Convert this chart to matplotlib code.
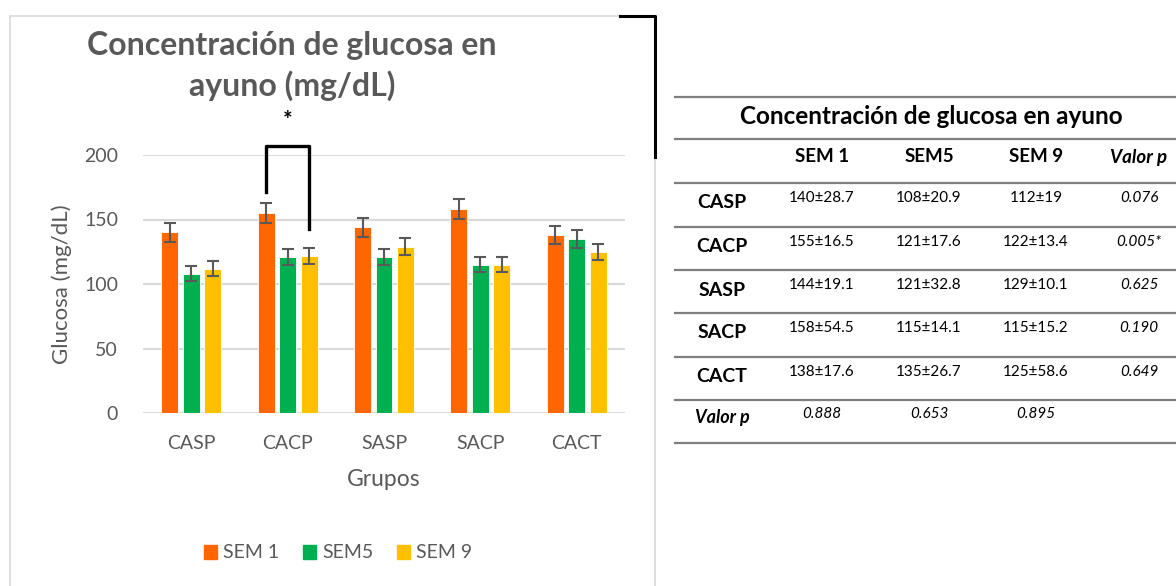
import matplotlib
matplotlib.use("Agg")
import matplotlib.pyplot as plt
from matplotlib.lines import Line2D
from matplotlib.patches import Rectangle, Patch

plt.rcParams['font.family'] = ['Lato', 'DejaVu Sans']

# ---- data ----
groups = ['CASP', 'CACP', 'SASP', 'SACP', 'CACT']
series = ['SEM 1', 'SEM5', 'SEM 9']
sem1 = [140, 155, 144, 158, 138]
sem5 = [108, 121, 121, 115, 135]
sem9 = [112, 122, 129, 115, 125]
err1 = [7.1, 7.9, 7.4, 7.9, 7.0]
err5 = [5.6, 6.2, 6.2, 5.8, 7.0]
err9 = [5.8, 6.2, 6.5, 5.8, 6.2]
colors = ['#FF6600', '#00B050', '#FFC000']

# table data
tbl_title = 'Concentración de glucosa en ayuno'
tbl_header = ['SEM 1', 'SEM5', 'SEM 9', 'Valor p']
tbl_sem1 = ['140±28.7', '155±16.5', '144±19.1', '158±54.5', '138±17.6']
tbl_sem5 = ['108±20.9', '121±17.6', '121±32.8', '115±14.1', '135±26.7']
tbl_sem9 = ['112±19', '122±13.4', '129±10.1', '115±15.2', '125±58.6']
tbl_prow = ['0.076', '0.005*', '0.625', '0.190', '0.649']
tbl_pcol = ['0.888', '0.653', '0.895']

W, H = 1176, 586
fig = plt.figure(figsize=(W / 100, H / 100), dpi=100)

def fx(px):
    return px / W

def fy(py):
    return 1 - py / H

# chart frame + black bracket on its corner
fig.add_artist(Rectangle((fx(10), fy(600)), fx(655) - fx(10), fy(16) - fy(600),
                         transform=fig.transFigure, fill=False, ec='#D9D9D9', lw=1.2))
fig.add_artist(Line2D([fx(620), fx(655), fx(655)], [fy(16), fy(16), fy(157)],
                      transform=fig.transFigure, color='black', lw=2.2))

ax = fig.add_axes([fx(143), fy(413), fx(625) - fx(143), fy(155) - fy(413)])
step = 0.223
bw = 0.175
for j, (vals, errs) in enumerate(zip([sem1, sem5, sem9], [err1, err5, err9])):
    xs = [i + (j - 1) * step for i in range(len(groups))]
    ax.bar(xs, vals, width=bw, color=colors[j], edgecolor='white', linewidth=0.6,
           zorder=2, label=series[j])
    ax.errorbar(xs, vals, yerr=errs, fmt='none', ecolor='#595959', elinewidth=1.5,
                capsize=4.5, capthick=1.5, zorder=3)

ax.set_xlim(-0.5, len(groups) - 0.5)
ax.set_ylim(0, 200)
ax.set_yticks([0, 50, 100, 150, 200])
ax.yaxis.grid(True, color='#D9D9D9', lw=1.5, zorder=0)
ax.set_axisbelow(True)
for s in ax.spines.values():
    s.set_visible(False)
ax.set_xticks(range(len(groups)))
ax.set_xticklabels(groups)
ax.tick_params(length=0, labelsize=14, labelcolor='#595959')
ax.tick_params(axis='y', pad=18)
ax.tick_params(axis='x', pad=16)
ax.set_ylabel('Glucosa (mg/dL)', fontsize=16, color='#595959', va='center')
ax.yaxis.set_label_coords(-0.168, 0.5)
ax.set_xlabel('Grupos', fontsize=16.5, color='#595959', labelpad=12)

# significance bracket
ax.plot([1 - step, 1 - step, 1 + step, 1 + step], [171, 207, 207, 142.6],
        color='black', lw=2.4, clip_on=False, zorder=4)
ax.text(1, 227, '*', ha='center', va='center', fontsize=16, fontweight='bold', clip_on=False)

fig.text(fx(292), fy(66), 'Concentración de glucosa en\nayuno (mg/dL)', ha='center', va='center',
         fontsize=23, fontweight='bold', color='#595959', linespacing=1.4)

handles = [Patch(color=c) for c in colors]
fig.legend(handles, series, loc='center', bbox_to_anchor=(fx(338), fy(553)), ncol=3,
           frameon=False, fontsize=14, handlelength=0.7, handleheight=0.7,
           handletextpad=0.3, columnspacing=1.2, labelcolor='#595959')

# ---- table ----
tx0, tx1 = fx(675), fx(1176)
for ly in [97, 139, 183, 227, 270, 313, 357, 400, 443]:
    fig.add_artist(Line2D([tx0, tx1], [fy(ly), fy(ly)], transform=fig.transFigure,
                          color='#7F7F7F', lw=1.6))
fig.text(fx(931), fy(116), tbl_title, ha='center', va='center', fontsize=17.5,
         fontweight='bold', color='black')
col_x = [822, 929, 1036, 1139]
for cx, h in zip(col_x, tbl_header):
    fig.text(fx(cx), fy(157), h, ha='center', va='center', fontsize=13.5, fontweight='bold',
             style='italic' if h == 'Valor p' else 'normal')
row_top = [183, 227, 270, 313, 357]
for r, g in enumerate(groups):
    ty = row_top[r] + 20
    fig.text(fx(722), fy(ty), g, ha='center', va='center', fontsize=14, fontweight='bold')
    cells = [tbl_sem1[r], tbl_sem5[r], tbl_sem9[r]]
    for cx, t in zip(col_x[:3], cells):
        fig.text(fx(cx), fy(ty - 5), t, ha='center', va='center', fontsize=11)
    fig.text(fx(col_x[3]), fy(ty - 5), tbl_prow[r], ha='center', va='center', fontsize=11,
             style='italic')
fig.text(fx(722), fy(418), 'Valor p', ha='center', va='center', fontsize=13,
         fontweight='bold', style='italic')
for cx, t in zip(col_x[:3], tbl_pcol):
    fig.text(fx(cx), fy(414), t, ha='center', va='center', fontsize=11, style='italic')

fig.savefig('out.png', dpi=100)
